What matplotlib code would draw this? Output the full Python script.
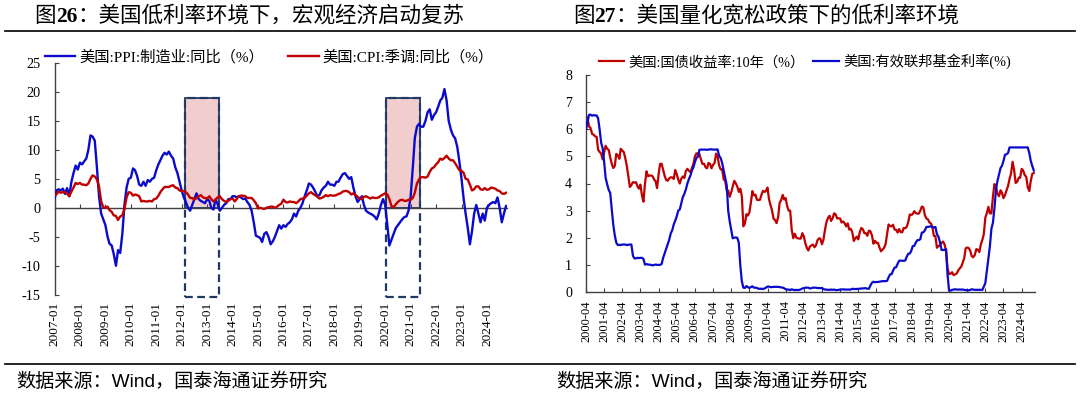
import numpy as np
import pandas as pd
import matplotlib
matplotlib.use("Agg")
import matplotlib.pyplot as plt
import matplotlib.dates as mdates
from matplotlib.patches import Rectangle

plt.rcParams['font.family'] = ['Liberation Serif', 'Noto Sans CJK SC']
plt.rcParams['axes.unicode_minus'] = False

# ---- 图26 数据：月度，2007-01 起 ----
ppi_mfg = [
    1.5, 3.0, 3.2, 3.0, 3.3, 2.4, 3.4, 2.0, 4.5, 6.0, 7.3, 6.6,
    7.8, 7.5, 8.0, 8.5, 10.0, 12.5, 12.3, 11.6, 7.0, 2.0, -1.0, -2.0,
    -3.0, -5.0, -6.2, -6.5, -8.0, -10.0, -7.3, -7.8, -4.5, 0.5, 3.5, 5.0,
    5.2, 6.8, 6.5, 5.5, 4.0, 3.8, 4.5, 3.8, 4.8, 4.5, 5.0, 5.2,
    6.5, 7.5, 8.2, 9.0, 9.5, 9.2, 9.7, 9.0, 8.5, 7.0, 6.0, 4.5,
    3.0, 1.8, 1.0, 0.0, -0.5, 0.5, 1.5, 2.5, 1.5, 1.2, 1.0, 0.8,
    1.5, 1.2, 0.0, -0.3, 1.5, 0.6, -0.5, 0.0, 0.5, 0.8, 1.5, 1.5,
    2.0, 2.0, 1.8, 2.0, 1.8, 1.5, 1.6, 1.0, 0.5, -0.5, -2.5, -4.8,
    -5.0, -5.2, -5.9, -4.5, -4.2, -5.0, -6.3, -5.8, -5.0, -4.0, -3.0, -3.6,
    -3.0, -3.3, -2.8, -2.5, -2.0, -1.0, -1.5, -0.5, 0.0, 0.8, 2.0, 3.0,
    4.2, 4.0, 3.5, 2.8, 2.0, 2.2, 3.0, 3.5, 3.8, 4.5, 4.0, 4.0,
    3.8, 4.5, 4.5, 5.2, 5.8, 6.0, 5.5, 5.0, 5.3, 3.5, 2.0, 1.0,
    1.5, 2.0, 0.5, -0.5, -0.8, -1.0, -1.2, -1.5, -2.0, -1.0, 0.5, 1.5,
    0.5, -3.0, -6.5, -5.5, -4.5, -3.5, -3.0, -2.5, -2.0, -1.6, -1.5, -0.5,
    2.0, 7.0, 12.0, 14.0, 14.5, 14.0, 14.0, 15.0, 16.5, 17.0, 15.2, 16.0,
    16.5, 17.5, 18.5, 19.0, 20.5, 18.5, 15.0, 13.5, 12.5, 12.0, 10.5, 8.0,
    5.0, 1.5, -1.0, -3.5, -6.3, -4.0, -1.0, 0.5, -1.0, -2.5, -1.0, -2.2,
    0.0, 0.5, 0.8, 1.0, 0.8, 1.8, 0.0, -2.5, -1.0, 0.3,
]
cpi_sa = [
    2.1, 2.4, 2.8, 2.6, 2.7, 2.7, 2.4, 2.0, 2.8, 3.5, 4.3, 4.1,
    4.3, 4.0, 4.0, 3.9, 4.2, 5.0, 5.6, 5.4, 4.9, 3.7, 1.1, 0.1,
    0.0, 0.2, -0.4, -0.7, -1.3, -1.4, -2.1, -1.5, -1.3, -0.2, 1.8, 2.7,
    2.6, 2.1, 2.3, 2.2, 2.0, 1.1, 1.2, 1.1, 1.1, 1.2, 1.1, 1.5,
    1.6, 2.1, 2.7, 3.2, 3.6, 3.6, 3.6, 3.8, 3.9, 3.5, 3.4, 3.0,
    2.9, 2.9, 2.7, 2.3, 1.7, 1.7, 1.4, 1.7, 2.0, 2.2, 1.8, 1.7,
    1.6, 2.0, 1.5, 1.1, 1.4, 1.8, 2.0, 1.5, 1.2, 1.0, 1.2, 1.5,
    1.6, 1.1, 1.5, 2.0, 2.1, 2.1, 2.0, 1.7, 1.7, 1.7, 1.3, 0.8,
    -0.1, 0.0, -0.1, -0.2, 0.0, 0.1, 0.2, 0.2, 0.0, 0.2, 0.5, 0.7,
    1.4, 1.0, 0.9, 1.1, 1.0, 1.0, 0.8, 1.1, 1.5, 1.6, 1.7, 2.1,
    2.5, 2.7, 2.4, 2.2, 1.9, 1.6, 1.7, 1.9, 2.2, 2.0, 2.2, 2.1,
    2.1, 2.2, 2.4, 2.5, 2.8, 2.9, 2.9, 2.7, 2.3, 2.5, 2.2, 1.9,
    1.6, 1.5, 1.9, 2.0, 1.8, 1.6, 1.8, 1.7, 1.7, 1.8, 2.1, 2.3,
    2.5, 2.3, 1.5, 0.3, 0.1, 0.6, 1.0, 1.3, 1.4, 1.2, 1.2, 1.4,
    1.4, 1.7, 2.6, 4.2, 4.9, 5.3, 5.3, 5.2, 5.4, 6.2, 6.8, 7.0,
    7.5, 7.9, 8.5, 8.3, 8.6, 9.0, 8.5, 8.2, 8.2, 7.7, 7.1, 6.5,
    6.4, 6.0, 5.0, 4.9, 4.0, 3.0, 3.2, 3.7, 3.7, 3.2, 3.1, 3.4,
    3.1, 3.2, 3.5, 3.4, 3.3, 3.0, 2.9, 2.5, 2.4, 2.6,
]
left_ticks = [f"{y}-01" for y in range(2007, 2025)]
shade_periods = [("2012-02-15", "2013-06-25"), ("2020-01-18", "2021-05-08")]

# ---- 图27 数据：月度，2000-04 起 ----
ust_10y = [
    5.99, 6.44, 6.10, 6.05, 5.83, 5.80, 5.74, 5.72, 5.24,
    5.16, 5.10, 4.89, 5.14, 5.39, 5.28, 5.24, 4.97, 4.73, 4.57, 4.65, 5.09,
    5.04, 4.91, 5.28, 5.21, 5.16, 4.93, 4.65, 4.26, 3.87, 3.94, 4.05, 4.03,
    4.05, 3.90, 3.81, 3.96, 3.57, 3.33, 3.98, 4.45, 4.27, 4.29, 4.30, 4.27,
    4.15, 4.08, 3.83, 4.35, 4.72, 4.73, 4.50, 4.28, 4.13, 4.10, 4.19, 4.23,
    4.22, 4.17, 4.50, 4.34, 4.14, 4.00, 4.18, 4.26, 4.20, 4.46, 4.54, 4.47,
    4.42, 4.57, 4.72, 4.99, 5.11, 5.11, 5.09, 4.88, 4.72, 4.73, 4.60, 4.56,
    4.76, 4.72, 4.56, 4.69, 4.75, 5.10, 5.00, 4.67, 4.52, 4.53, 4.15, 4.10,
    3.74, 3.74, 3.51, 3.68, 3.88, 4.10, 4.01, 3.89, 3.69, 3.81, 3.53, 2.42,
    2.52, 2.87, 2.82, 2.93, 3.29, 3.72, 3.56, 3.59, 3.40, 3.39, 3.40, 3.59,
    3.73, 3.69, 3.73, 3.85, 3.42, 3.20, 3.01, 2.70, 2.65, 2.54, 2.76, 3.29,
    3.39, 3.58, 3.41, 3.46, 3.17, 3.00, 3.00, 2.30, 1.98, 2.15, 2.01, 1.98,
    1.97, 1.97, 2.17, 2.05, 1.80, 1.62, 1.53, 1.68, 1.72, 1.75, 1.65, 1.72,
    1.91, 1.98, 1.96, 1.76, 1.93, 2.30, 2.58, 2.74, 2.81, 2.62, 2.72, 2.90,
    2.86, 2.71, 2.72, 2.71, 2.56, 2.60, 2.54, 2.42, 2.53, 2.30, 2.33, 2.21,
    1.88, 1.98, 2.04, 1.94, 2.20, 2.36, 2.32, 2.17, 2.17, 2.07, 2.26, 2.24,
    2.09, 1.78, 1.89, 1.81, 1.81, 1.64, 1.50, 1.56, 1.63, 1.76, 2.14, 2.49,
    2.43, 2.42, 2.48, 2.30, 2.30, 2.19, 2.32, 2.21, 2.20, 2.36, 2.35, 2.40,
    2.58, 2.86, 2.84, 2.87, 2.98, 2.91, 2.89, 2.89, 3.00, 3.15, 3.12, 2.83,
    2.71, 2.68, 2.57, 2.53, 2.40, 2.07, 2.06, 1.63, 1.70, 1.71, 1.81, 1.86,
    1.76, 1.50, 0.87, 0.66, 0.67, 0.73, 0.62, 0.65, 0.68, 0.79, 0.87, 0.93,
    1.08, 1.26, 1.61, 1.64, 1.62, 1.52, 1.32, 1.28, 1.37, 1.58, 1.56, 1.47,
    1.76, 1.93, 2.13, 2.75, 2.90, 3.14, 2.90, 2.90, 3.52, 3.98, 3.89, 3.62,
    3.53, 3.75, 3.66, 3.46, 3.57, 3.75, 3.90, 4.17, 4.38, 4.80, 4.50, 4.02,
    4.06, 4.21, 4.21, 4.54, 4.48, 4.31, 4.25, 3.87, 3.72, 4.10, 4.36, 4.39,
]
effr = [
    6.02, 6.27, 6.53, 6.54, 6.50, 6.52, 6.51, 6.51, 6.40,
    5.98, 5.49, 5.31, 4.80, 4.21, 3.97, 3.77, 3.65, 3.07, 2.49, 2.09, 1.82,
    1.73, 1.74, 1.73, 1.75, 1.75, 1.75, 1.73, 1.74, 1.75, 1.75, 1.34, 1.24,
    1.24, 1.26, 1.25, 1.26, 1.26, 1.22, 1.01, 1.03, 1.01, 1.01, 1.00, 0.98,
    1.00, 1.01, 1.00, 1.00, 1.00, 1.03, 1.26, 1.43, 1.61, 1.76, 1.93, 2.16,
    2.28, 2.50, 2.63, 2.79, 3.00, 3.04, 3.26, 3.50, 3.62, 3.78, 4.00, 4.16,
    4.29, 4.49, 4.59, 4.79, 4.94, 4.99, 5.24, 5.25, 5.25, 5.25, 5.25, 5.24,
    5.25, 5.26, 5.26, 5.25, 5.25, 5.25, 5.26, 5.02, 4.94, 4.76, 4.49, 4.24,
    3.94, 2.98, 2.61, 2.28, 1.98, 2.00, 2.01, 2.00, 1.81, 0.97, 0.39, 0.16,
    0.15, 0.22, 0.18, 0.15, 0.18, 0.21, 0.16, 0.16, 0.15, 0.12, 0.12, 0.12,
    0.11, 0.13, 0.16, 0.20, 0.20, 0.18, 0.18, 0.19, 0.19, 0.19, 0.19, 0.18,
    0.17, 0.16, 0.14, 0.10, 0.09, 0.09, 0.07, 0.10, 0.08, 0.07, 0.08, 0.07,
    0.08, 0.10, 0.13, 0.14, 0.16, 0.16, 0.16, 0.13, 0.14, 0.16, 0.16, 0.16,
    0.14, 0.15, 0.14, 0.15, 0.11, 0.09, 0.09, 0.08, 0.08, 0.09, 0.08, 0.09,
    0.07, 0.07, 0.08, 0.09, 0.09, 0.10, 0.09, 0.09, 0.09, 0.09, 0.09, 0.12,
    0.11, 0.11, 0.11, 0.12, 0.12, 0.13, 0.13, 0.14, 0.14, 0.12, 0.12, 0.24,
    0.34, 0.38, 0.36, 0.37, 0.37, 0.38, 0.39, 0.40, 0.40, 0.40, 0.41, 0.54,
    0.65, 0.66, 0.79, 0.90, 0.91, 1.04, 1.15, 1.16, 1.15, 1.15, 1.16, 1.30,
    1.41, 1.42, 1.51, 1.69, 1.70, 1.82, 1.91, 1.91, 1.95, 2.19, 2.20, 2.27,
    2.40, 2.40, 2.41, 2.42, 2.39, 2.38, 2.40, 2.13, 2.04, 1.83, 1.55, 1.55,
    1.55, 1.58, 0.65, 0.05, 0.05, 0.08, 0.09, 0.10, 0.09, 0.09, 0.09, 0.09,
    0.09, 0.08, 0.07, 0.07, 0.06, 0.08, 0.10, 0.09, 0.08, 0.08, 0.08, 0.08,
    0.08, 0.08, 0.20, 0.33, 0.77, 1.21, 1.68, 2.33, 2.56, 3.08, 3.78, 4.10,
    4.33, 4.57, 4.65, 4.83, 5.06, 5.08, 5.12, 5.33, 5.33, 5.33, 5.33, 5.33,
    5.33, 5.33, 5.33, 5.33, 5.33, 5.33, 5.33, 5.33, 5.13, 4.83, 4.64, 4.48,
]
right_ticks = [f"{y}-04" for y in range(2000, 2025)]

BLUE = '#0A0ACD'
RED = '#C00000'
NAVY = '#1F3864'
PINK = '#F2CDCD'
GREY = '#404040'

W, H = 1080, 394
fig = plt.figure(figsize=(W / 100, H / 100), dpi=100)


def fx(px):
    return px / W


def fy(py):
    return 1 - py / H


# ---------------- 图26 ----------------
d_left = pd.date_range("2007-01-01", periods=len(ppi_mfg), freq="MS")
ax1 = fig.add_axes([fx(54.5), fy(294.7), fx(507 - 54.5), (294.7 - 63) / H])
ax1.plot(d_left, ppi_mfg, color=BLUE, lw=1.7, label="美国:PPI:制造业:同比（%）", zorder=3)
ax1.plot(d_left, cpi_sa, color=RED, lw=1.7, label="美国:CPI:季调:同比（%）", zorder=3)

for s, e in shade_periods:
    x0 = mdates.date2num(pd.Timestamp(s))
    x1 = mdates.date2num(pd.Timestamp(e))
    ax1.add_patch(Rectangle((x0, 0), x1 - x0, 19, facecolor=PINK, edgecolor=NAVY,
                            lw=1.3, zorder=1))
    ax1.add_patch(Rectangle((x0, -15.4), x1 - x0, 19 + 15.4, fill=False, edgecolor=NAVY,
                            lw=1.6, ls=(0, (3.5, 2)), zorder=2, clip_on=False))

ax1.set_ylim(-15, 25)
ax1.set_yticks(range(-15, 26, 5))
ax1.set_xlim(pd.Timestamp("2007-01-01"), pd.Timestamp("2024-10-15"))
xt = pd.to_datetime(left_ticks)
ax1.set_xticks(xt)
ax1.set_xticklabels([])
ax1.spines['bottom'].set_position(('data', 0))
for side in ['top', 'right']:
    ax1.spines[side].set_visible(False)
for side in ['left', 'bottom']:
    ax1.spines[side].set_color(GREY)
    ax1.spines[side].set_linewidth(1.0)
ax1.tick_params(axis='x', direction='in', length=3, color=GREY, labelbottom=False)
ax1.tick_params(axis='y', direction='in', length=3, color=GREY, pad=10, labelsize=10.3)

sec1 = ax1.secondary_xaxis('bottom')
sec1.set_xticks(xt)
sec1.set_xticklabels(left_ticks, rotation=90, fontsize=9.5)
sec1.tick_params(length=0, pad=5)
sec1.spines['bottom'].set_visible(False)

ax1.legend(loc='center left', bbox_to_anchor=(fx(44.8), fy(57.3)), bbox_transform=fig.transFigure,
           ncol=2, frameon=False, fontsize=11, handlelength=2.0, handletextpad=0.25,
           columnspacing=1.6, borderpad=0, borderaxespad=0)

# ---------------- 图27 ----------------
d_right = pd.date_range("2000-04-01", periods=len(ust_10y), freq="MS")
ax2 = fig.add_axes([fx(586), fy(292), fx(1034.5 - 586), (292 - 75) / H])
ax2.plot(d_right, ust_10y, color=RED, lw=1.6, label="美国:国债收益率:10年（%）", zorder=2)
ax2.plot(d_right, effr, color=BLUE, lw=1.6, label="美国:有效联邦基金利率(%)", zorder=3)
ax2.set_ylim(0, 8)
ax2.set_yticks(range(0, 9))
ax2.set_xlim(pd.Timestamp("2000-04-01"), pd.Timestamp("2024-12-15"))
xt2 = pd.to_datetime(right_ticks)
ax2.set_xticks(xt2)
ax2.set_xticklabels(right_ticks, rotation=90, fontsize=8.9)
for side in ['top', 'right']:
    ax2.spines[side].set_visible(False)
for side in ['left', 'bottom']:
    ax2.spines[side].set_color(GREY)
    ax2.spines[side].set_linewidth(1.0)
ax2.tick_params(axis='x', direction='in', length=3, color=GREY, pad=6)
ax2.tick_params(axis='y', direction='in', length=3, color=GREY, pad=10, labelsize=10)

ax2.legend(loc='center left', bbox_to_anchor=(fx(598.5), fy(61.7)), bbox_transform=fig.transFigure,
           ncol=2, frameon=False, fontsize=10.3, handlelength=1.8, handletextpad=0.3,
           columnspacing=0.6, borderpad=0, borderaxespad=0)

# ---------------- 标题、分隔线、来源 ----------------
fig.add_artist(plt.Line2D([fx(5), fx(1075)], [fy(31), fy(31)], color='black', lw=1.2))
fig.add_artist(plt.Line2D([fx(5), fx(1075)], [fy(364), fy(364)], color='black', lw=1.2))


def title(x, num, rest):
    t0 = fig.text(fx(x), fy(17), "图", fontsize=15.5, va='center', ha='left')
    t1 = plt.annotate(num, xy=(1, 0), xycoords=t0, va='bottom', ha='left',
                      fontsize=15.5, fontweight='bold')
    plt.annotate(rest, xy=(1, 0), xycoords=t1, va='bottom', ha='left', fontsize=15.5)


title(34.4, "26", "：美国低利率环境下，宏观经济启动复苏")
title(572.7, "27", "：美国量化宽松政策下的低利率环境")

src_font = ['Liberation Sans', 'Noto Sans CJK SC']
fig.text(fx(16.5), fy(382), "数据来源：Wind，国泰海通证券研究", fontsize=13.8,
         family=src_font, va='center', ha='left')
fig.text(fx(556.5), fy(382), "数据来源：Wind，国泰海通证券研究", fontsize=13.8,
         family=src_font, va='center', ha='left')

fig.savefig("out.png", dpi=100)
